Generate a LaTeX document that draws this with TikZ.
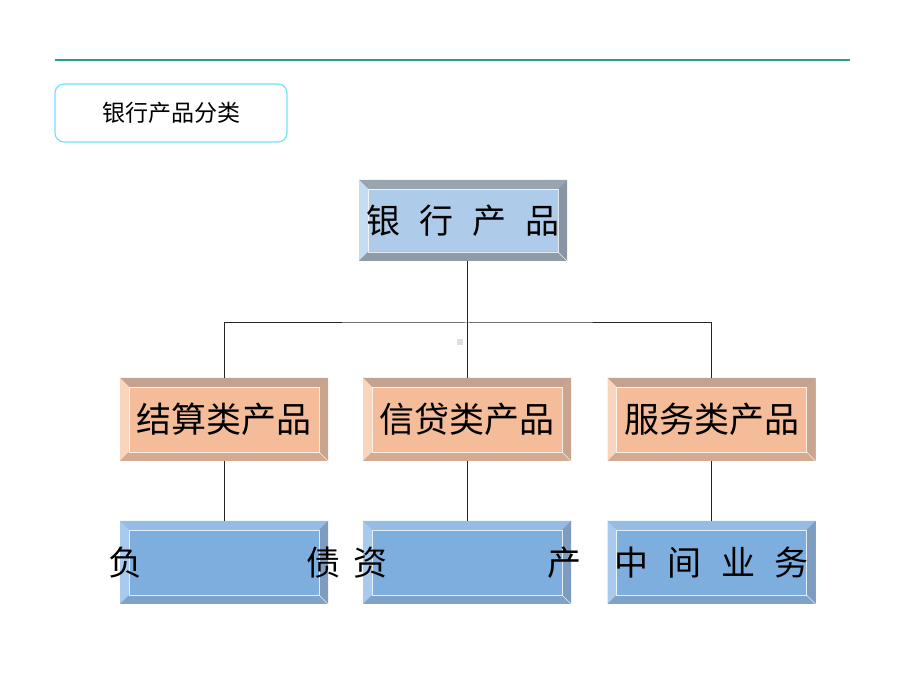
\documentclass[tikz,border=0pt]{standalone}
\usepackage{fontspec}
\newfontfamily\cjk{Noto Sans CJK SC}
\usepackage{tikz}
\usetikzlibrary{positioning, calc}
\definecolor{hdteal}{RGB}{42, 160, 140}
\definecolor{tagcyan}{RGB}{110, 226, 255}
\definecolor{topface}{RGB}{174, 203, 234}
\definecolor{toptop}{RGB}{152, 164, 176}
\definecolor{topleft}{RGB}{198, 220, 240}
\definecolor{topright}{RGB}{136, 150, 164}
\definecolor{topbot}{RGB}{142, 156, 170}
\definecolor{midface}{RGB}{244, 188, 152}
\definecolor{midtop}{RGB}{196, 162, 146}
\definecolor{midleft}{RGB}{249, 213, 190}
\definecolor{midright}{RGB}{201, 164, 142}
\definecolor{midbot}{RGB}{212, 170, 144}
\definecolor{lowface}{RGB}{126, 174, 222}
\definecolor{lowtop}{RGB}{150, 188, 230}
\definecolor{lowleft}{RGB}{168, 202, 238}
\definecolor{lowright}{RGB}{125, 156, 192}
\definecolor{lowbot}{RGB}{126, 162, 200}

\begin{document}
\begin{tikzpicture}[
		x=1pt, y=1pt,
		% 样式定义
		bevel/.style n args={5}{fill=#1, inner sep=0pt,
			path picture={
				\path (path picture bounding box.north west) coordinate (bnw)
				(path picture bounding box.north east) coordinate (bne)
				(path picture bounding box.south west) coordinate (bsw)
				(path picture bounding box.south east) coordinate (bse);
				\fill[#2] (bnw) -- (bne) -- ([shift={(-9pt,-9pt)}]bne) -- ([shift={(9pt,-9pt)}]bnw) -- cycle;
				\fill[#3] (bnw) -- ([shift={(9pt,-9pt)}]bnw) -- ([shift={(9pt,9pt)}]bsw) -- (bsw) -- cycle;
				\fill[#4] (bne) -- (bse) -- ([shift={(-9pt,9pt)}]bse) -- ([shift={(-9pt,-9pt)}]bne) -- cycle;
				\fill[#5] (bsw) -- ([shift={(9pt,9pt)}]bsw) -- ([shift={(-9pt,9pt)}]bse) -- (bse) -- cycle;
				\draw[white, opacity=0.8, line width=0.8pt] ([shift={(9pt,-9pt)}]bnw) rectangle ([shift={(-9pt,9pt)}]bse);
				\draw[white, opacity=0.8, line width=0.6pt] ([shift={(-9pt,9pt)}]bse) -- (bse);
		}},
		topbox/.style={bevel={topface}{toptop}{topleft}{topright}{topbot}, minimum width=208pt, minimum height=81pt},
		midbox/.style={bevel={midface}{midtop}{midleft}{midright}{midbot}, minimum width=208pt, minimum height=83pt},
		lowbox/.style={bevel={lowface}{lowtop}{lowleft}{lowright}{lowbot}, minimum width=208pt, minimum height=83pt},
		big/.style={font=\cjk\fontsize{34}{38}\selectfont},
		conn/.style={draw=black!85, line width=1pt}
		]
		
		\useasboundingbox (0,0) rectangle (920,690);
		
		% ==========================================
		% 标题部分
		% ==========================================
		\draw[hdteal, line width=2.8pt] (55,630) coordinate (rulel) -- (850,630) coordinate (ruler);
		
		\node[draw=tagcyan, line width=1.2pt, rounded corners=9pt, minimum width=232pt, minimum height=58pt,
		font=\cjk\fontsize{23}{26}\selectfont] (tag) at (171,577) {银行产品分类};
		
		% ==========================================
		% 第一层
		% ==========================================
		\node[topbox, big] (root) at (463,469.5) {\makebox[0pt]{\makebox[193pt]{银\hfill 行\hfill 产\hfill 品}}};
		
		% ==========================================
		% 第二层
		% ==========================================
		\node[midbox, big, font=\cjk\fontsize{35}{38}\selectfont] (settle) at (224,270.5) {结算类产品};
		\node[midbox, big, font=\cjk\fontsize{35}{38}\selectfont] (credit) at (467,270.5) {信贷类产品};
		\node[midbox, big, font=\cjk\fontsize{35}{38}\selectfont] (service) at (711.5,270.5) {服务类产品};
		
		% ==========================================
		% 第三层
		% ==========================================
		\node[lowbox, big] (liab) at (224,127.5) {\makebox[0pt]{\makebox[232pt]{负\hfill 债}}};
		\node[lowbox, big] (asset) at (467,127.5) {\makebox[0pt]{\makebox[228pt]{资\hfill 产}}};
		\node[lowbox, big] (inter) at (711.5,127.5) {\makebox[0pt]{\makebox[194pt]{中\hfill 间\hfill 业\hfill 务}}};
		
		% 连接线
		\coordinate (bus) at (467,367);
		\draw[conn] (root.south -| bus) -- (bus);
		\draw[conn] (settle.north) |- (bus) -| (service.north);
		\draw[conn] (bus) -- (credit.north);
		\draw[conn] (settle.south) -- (liab.north);
		\draw[conn] (credit.south) -- (asset.north);
		\draw[conn] (service.south) -- (inter.north);
		
		% 小灰点
		\node[fill=black!12, minimum size=6pt, inner sep=0pt] (dot) at (460,348) {};
		
	\end{tikzpicture}
\end{document}
